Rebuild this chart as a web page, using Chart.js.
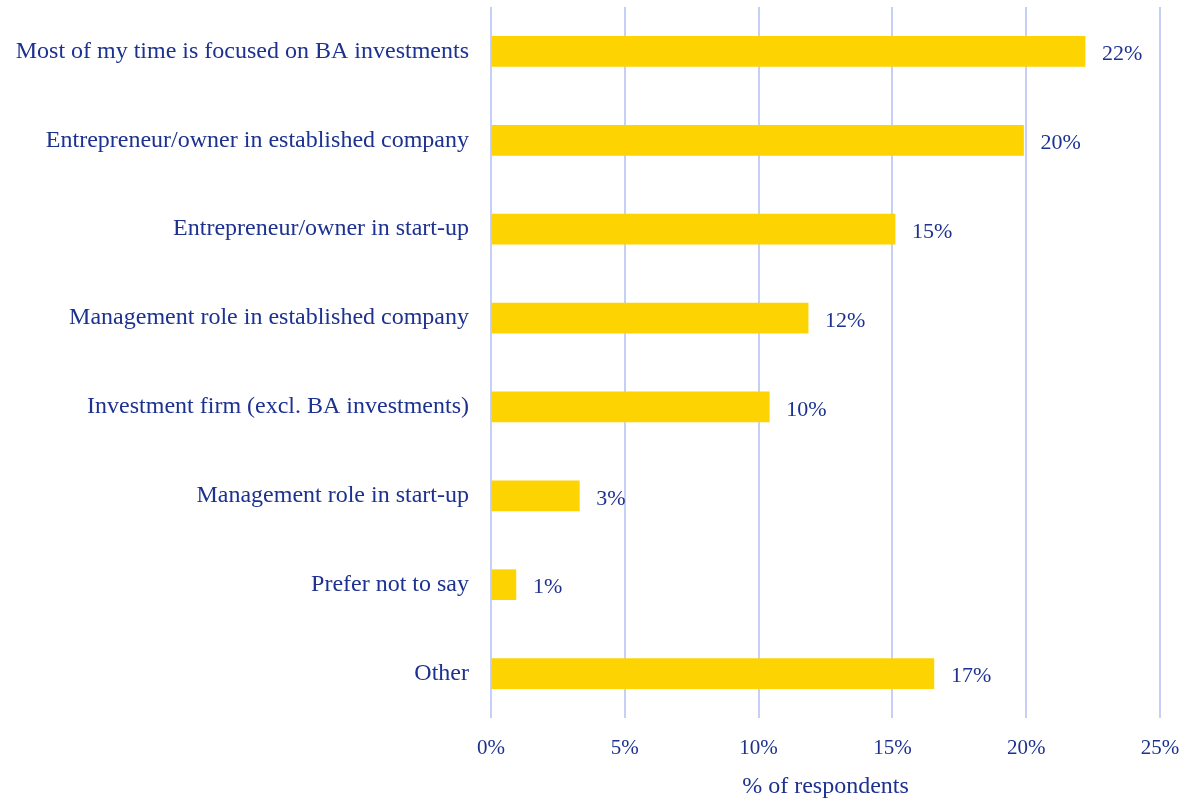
<!DOCTYPE html>
<html>
<head>
<meta charset="utf-8">
<script src="https://cdn.jsdelivr.net/npm/chart.js@4.4.1/dist/chart.umd.min.js"></script>
<style>
html,body{margin:0;padding:0;background:#fff;}
#wrap{width:1185px;height:801px;position:relative;}
</style>
</head>
<body>
<div id="wrap"><canvas id="c" width="1185" height="801"></canvas></div>
<script>
const categories = [
  "Most of my time is focused on BA investments",
  "Entrepreneur/owner in established company",
  "Entrepreneur/owner in start-up",
  "Management role in established company",
  "Investment firm (excl. BA investments)",
  "Management role in start-up",
  "Prefer not to say",
  "Other"
];
const values = [22.2, 19.9, 15.1, 11.85, 10.4, 3.3, 0.93, 16.55];
const xTicks = [0, 5, 10, 15, 20, 25];
const axisTitle = "% of respondents";

const TEXT = "#1c3190";
const FONT = "'Liberation Serif', 'Times New Roman', serif";

const valueLabels = {
  id: 'valueLabels',
  afterDatasetsDraw(chart) {
    const ctx = chart.ctx;
    const meta = chart.getDatasetMeta(0);
    ctx.save();
    ctx.fillStyle = TEXT;
    ctx.font = "22px " + FONT;
    ctx.textAlign = 'left';
    ctx.textBaseline = 'middle';
    meta.data.forEach((bar, i) => {
      ctx.fillText(Math.round(values[i]) + '%', bar.x + 17, bar.y + 3);
    });
    ctx.restore();
  }
};

new Chart(document.getElementById('c'), {
  type: 'bar',
  data: {
    labels: categories,
    datasets: [{
      data: values,
      backgroundColor: '#fdd302',
      borderWidth: 0,
      barThickness: 30
    }]
  },
  options: {
    indexAxis: 'y',
    responsive: false,
    animation: false,
    layout: { padding: { top: 7, right: 25, bottom: 0, left: 0 } },
    plugins: { legend: { display: false }, tooltip: { enabled: false } },
    scales: {
      x: {
        min: 0, max: 25,
        afterBuildTicks(scale) { scale.ticks = xTicks.map(v => ({ value: v })); },
        afterFit(scale) {
          scale.height = 83;
          scale.paddingLeft = 0; scale.paddingRight = 0;
          scale.paddingTop = 0; scale.paddingBottom = 0;
        },
        grid: { color: '#c6d0f7', lineWidth: 2, drawTicks: false },
        border: { display: false },
        ticks: {
          color: TEXT,
          font: { family: FONT, size: 21 },
          padding: 18,
          maxRotation: 0,
          callback: v => v + '%'
        },
        title: {
          display: true,
          text: axisTitle,
          color: TEXT,
          font: { family: FONT, size: 24 },
          padding: { top: 4, bottom: 0 }
        }
      },
      y: {
        afterFit(scale) {
          scale.width = 491;
          scale.paddingTop = 0; scale.paddingBottom = 0;
          scale.paddingLeft = 0; scale.paddingRight = 0;
        },
        grid: { display: false, drawTicks: false },
        border: { display: false },
        ticks: {
          color: TEXT,
          font: { family: FONT, size: 24 },
          padding: 22
        }
      }
    }
  },
  plugins: [valueLabels]
});
</script>
</body>
</html>
